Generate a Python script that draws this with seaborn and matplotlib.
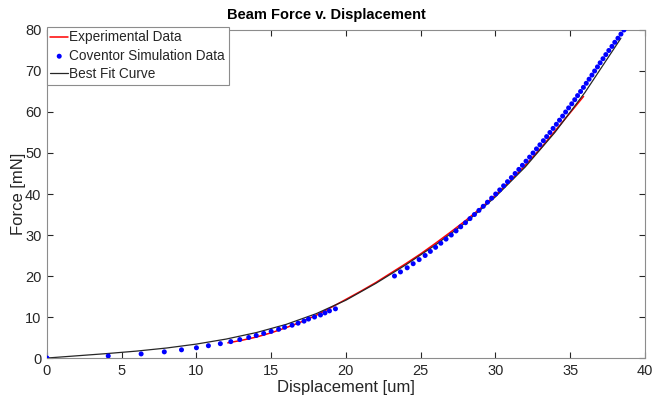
import matplotlib
matplotlib.use("Agg")
import matplotlib.pyplot as plt
import seaborn as sns
import numpy as np
import pandas as pd

# experimental data (red line)
exp_disp = [12.1, 13, 14, 15, 16, 17, 18, 19, 20, 21, 22, 23, 24, 25, 26,
            27, 28, 29, 30, 31, 32, 33, 34, 35, 35.9]
exp_force = [3.7, 4.3, 5.1, 6.15, 7.4, 8.8, 10.4, 12.3, 14.3, 16.3, 18.4,
             20.7, 23.0, 25.4, 28.0, 30.7, 33.5, 36.5, 39.7, 43.2, 47.0,
             51.0, 55.4, 59.8, 63.8]

# coventor simulation points (blue dots)
sim_disp = [0, 4.1, 6.3, 7.85, 9.0, 10.0, 10.8, 11.6, 12.3, 12.9, 13.5, 14.0,
            14.5, 15.0, 15.5, 15.9, 16.4, 16.8, 17.2, 17.5, 17.9, 18.3, 18.6,
            18.9, 19.3,
            23.25, 23.65, 24.1, 24.5, 24.9, 25.3, 25.65, 26.0, 26.35, 26.7,
            27.05, 27.37, 27.68, 28.0, 28.3, 28.6, 28.9, 29.19, 29.47, 29.75,
            30.02, 30.29, 30.55, 30.81, 31.07, 31.32, 31.57, 31.81, 32.05,
            32.29, 32.52, 32.75, 32.98, 33.21, 33.43, 33.65, 33.86, 34.08,
            34.29, 34.5, 34.7, 34.9, 35.11, 35.31, 35.5, 35.7, 35.89, 36.08,
            36.27, 36.46, 36.64, 36.83, 37.01, 37.2, 37.39, 37.59, 37.8,
            37.99, 38.2, 38.4, 38.6]
sim_force = [0, 0.5, 1.0, 1.5, 2.0, 2.5, 3.0, 3.5, 4.0, 4.5, 5.0, 5.5, 6.0,
             6.5, 7.0, 7.5, 8.0, 8.5, 9.0, 9.5, 10.0, 10.5, 11.0, 11.5, 12.0,
             20, 21, 22, 23, 24, 25, 26, 27, 28, 29, 30, 31, 32, 33, 34, 35,
             36, 37, 38, 39, 40, 41, 42, 43, 44, 45, 46, 47, 48, 49, 50, 51,
             52, 53, 54, 55, 56, 57, 58, 59, 60, 61, 62, 63, 64, 65, 66, 67,
             68, 69, 70, 71, 72, 73, 74, 75, 76, 77, 78, 79, 80]

# best fit curve (black line)
fit_disp = [0, 2, 4, 6, 8, 10, 12, 14, 16, 18, 20, 22, 24, 26, 28, 30, 32,
            34, 36, 38.4]
fit_force = [0, 0.54, 1.08, 1.69, 2.44, 3.4, 4.63, 6.2, 8.2, 10.8, 14.1,
             18.2, 22.7, 27.6, 33.0, 39.3, 46.6, 55.1, 64.8, 78.0]

sns.set_style("ticks")
plt.rcParams['font.family'] = ['Liberation Sans', 'DejaVu Sans']

fig = plt.figure(figsize=(6.56, 4.08), dpi=100)
ax = fig.add_axes([0.0716, 0.1225, 0.9114, 0.804])

df_exp = pd.DataFrame({"x": exp_disp, "y": exp_force})
df_sim = pd.DataFrame({"x": sim_disp, "y": sim_force})
df_fit = pd.DataFrame({"x": fit_disp, "y": fit_force})

sns.lineplot(data=df_exp, x="x", y="y", ax=ax, color="#ff0000", lw=1.1,
             sort=False, label="Experimental Data")
sns.scatterplot(data=df_sim, x="x", y="y", ax=ax, color="#0000ff", s=13,
                edgecolor="none", label="Coventor Simulation Data", zorder=3)
sns.lineplot(data=df_fit, x="x", y="y", ax=ax, color="#262626", lw=0.9,
             sort=False, label="Best Fit Curve")

ax.set_xlim(0, 40)
ax.set_ylim(0, 80)
ax.set_xticks(np.arange(0, 41, 5))
ax.set_yticks(np.arange(0, 81, 10))
ax.tick_params(direction="in", length=4, labelsize=10.5, colors="#262626",
               top=True, right=True, pad=4)
for s in ax.spines.values():
    s.set_color("#8c8c8c")
    s.set_linewidth(0.8)

ax.set_xlabel("Displacement [um]", fontsize=12, color="#262626", labelpad=2)
ax.set_ylabel("Force [mN]", fontsize=12, color="#262626", labelpad=-1)
ax.set_title("Beam Force v. Displacement", fontsize=10.5, fontweight="bold",
             color="black", pad=8, x=0.467)

leg = ax.legend(loc="upper left", bbox_to_anchor=(0.0, 1.009), fontsize=9.8,
                frameon=True, fancybox=False, framealpha=1,
                edgecolor="#8c8c8c", borderpad=0.25, handlelength=1.3,
                handletextpad=0.1, labelspacing=0.32, borderaxespad=0.0,
                markerscale=1.0)
leg.get_frame().set_linewidth(0.8)

fig.savefig("out.png", dpi=100)
